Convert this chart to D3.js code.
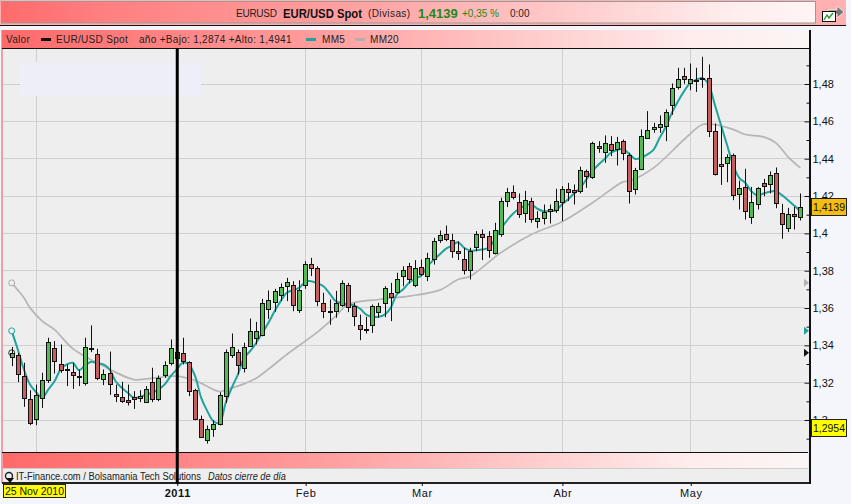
<!DOCTYPE html>
<html>
<head>
<meta charset="utf-8">
<title>EUR/USD Spot</title>
<script src="https://cdn.jsdelivr.net/npm/d3@7/dist/d3.min.js"></script>
<style>
  html, body { margin: 0; padding: 0; background: #f4f6fb; }
  svg { display: block; font-family: "Liberation Sans", Arial, sans-serif; }
  .axis text { font-size: 11px; fill: #111; }
  .axis line { stroke: #111; }
  .axis path { display: none; }
</style>
</head>
<body>
<svg id="chart" width="851" height="504"></svg>
<script>
"use strict";

// daily candles, 25 Nov 2010 onwards (ten per row)
const opens = [
  1.3336,1.3343,1.3232,1.3111,1.3004,1.3116,1.3212,1.3384,1.3298,1.3268,
  1.3254,1.3232,1.3196,1.3384,1.3352,1.3218,1.3250,1.3137,1.3121,1.3104,
  1.3121,1.3116,1.3095,1.3202,1.3111,1.3239,1.3302,1.3330,1.3357,1.3307,
  1.3157,1.3004,1.2891,1.2950,1.2977,1.3127,1.3343,1.3361,1.3275,1.3393,
  1.3437,1.3452,1.3593,1.3630,1.3668,1.3716,1.3721,1.3587,1.3721,1.3834,
  1.3813,1.3625,1.3582,1.3580,1.3614,1.3721,1.3609,1.3507,1.3487,1.3507,
  1.3577,1.3625,1.3679,1.3682,1.3770,1.3823,1.3720,1.3818,1.3768,1.3861,
  1.3961,1.3995,1.3961,1.3904,1.3859,1.3800,1.3925,1.3995,1.3984,1.3891,
  1.3993,1.4171,1.4220,1.4166,1.4107,1.4171,1.4064,1.4080,1.4118,1.4123,
  1.4166,1.4236,1.4230,1.4225,1.4332,1.4300,1.4466,1.4434,1.4477,1.4450,
  1.4493,1.4418,1.4236,1.4343,1.4509,1.4554,1.4568,1.4573,1.4686,1.4782,
  1.4841,1.4804,1.4820,1.4827,1.4830,1.4546,1.4370,1.4375,1.4418,1.4209,
  1.4246,1.4086,1.4155,1.4268,1.4262,1.4321,1.4107,1.4027,1.4102,1.4086
];
const highs = [
  1.3388,1.3357,1.3304,1.3157,1.3187,1.3250,1.3438,1.3420,1.3402,1.3295,
  1.3304,1.3268,1.3438,1.3504,1.3379,1.3268,1.3364,1.3187,1.3202,1.3187,
  1.3152,1.3157,1.3179,1.3277,1.3236,1.3312,1.3429,1.3375,1.3438,1.3312,
  1.3164,1.3021,1.2968,1.2996,1.3146,1.3375,1.3461,1.3375,1.3411,1.3541,
  1.3523,1.3646,1.3691,1.3700,1.3729,1.3759,1.3741,1.3746,1.3848,1.3866,
  1.3821,1.3679,1.3643,1.3689,1.3745,1.3732,1.3625,1.3562,1.3550,1.3616,
  1.3625,1.3714,1.3732,1.3786,1.3821,1.3839,1.3854,1.3857,1.3893,1.3973,
  1.4013,1.4039,1.3995,1.3955,1.3920,1.3920,1.4009,1.4018,1.4009,1.4054,
  1.4188,1.4241,1.4254,1.4211,1.4225,1.4188,1.4116,1.4152,1.4152,1.4236,
  1.4250,1.4268,1.4259,1.4354,1.4339,1.4488,1.4491,1.4522,1.4518,1.4514,
  1.4500,1.4429,1.4348,1.4554,1.4652,1.4589,1.4629,1.4661,1.4800,1.4884,
  1.4884,1.4907,1.4884,1.4943,1.4902,1.4586,1.4568,1.4420,1.4425,1.4280,
  1.4343,1.4246,1.4245,1.4289,1.4329,1.4350,1.4155,1.4134,1.4139,1.4211
];
const lows = [
  1.3286,1.3200,1.3068,1.2970,1.2970,1.3062,1.3196,1.3246,1.3250,1.3179,
  1.3164,1.3179,1.3182,1.3361,1.3211,1.3184,1.3132,1.3093,1.3089,1.3075,
  1.3057,1.3093,1.3093,1.3093,1.3098,1.3223,1.3289,1.3295,1.3295,1.3125,
  1.2996,1.2902,1.2871,1.2907,1.2968,1.3089,1.3330,1.3241,1.3252,1.3389,
  1.3402,1.3446,1.3539,1.3577,1.3634,1.3634,1.3580,1.3571,1.3700,1.3768,
  1.3607,1.3543,1.3507,1.3545,1.3604,1.3575,1.3500,1.3425,1.3461,1.3464,
  1.3545,1.3548,1.3527,1.3675,1.3714,1.3729,1.3709,1.3768,1.3741,1.3830,
  1.3946,1.3955,1.3866,1.3854,1.3777,1.3750,1.3902,1.3854,1.3866,1.3884,
  1.3979,1.4138,1.4179,1.4080,1.4054,1.4054,1.4025,1.4045,1.4050,1.4107,
  1.4063,1.4170,1.4152,1.4211,1.4241,1.4289,1.4429,1.4375,1.4411,1.4361,
  1.4389,1.4157,1.4205,1.4336,1.4504,1.4536,1.4536,1.4491,1.4632,1.4768,
  1.4798,1.4764,1.4755,1.4777,1.4513,1.4307,1.4257,1.4271,1.4175,1.4125,
  1.4071,1.4048,1.4125,1.4196,1.4211,1.4132,1.3968,1.4004,1.4018,1.4066
];
const closes = [
  1.3357,1.3246,1.3116,1.2982,1.3132,1.3212,1.3416,1.3314,1.3264,1.3268,
  1.3237,1.3232,1.3389,1.3384,1.3223,1.3245,1.3189,1.3127,1.3100,1.3095,
  1.3112,1.3127,1.3164,1.3112,1.3223,1.3293,1.3384,1.3362,1.3311,1.3154,
  1.3002,1.2907,1.2950,1.2975,1.3132,1.3362,1.3389,1.3293,1.3388,1.3473,
  1.3475,1.3625,1.3641,1.3689,1.3711,1.3737,1.3616,1.3696,1.3834,1.3813,
  1.3636,1.3580,1.3582,1.3625,1.3732,1.3604,1.3554,1.3486,1.3487,1.3609,
  1.3609,1.3702,1.3655,1.3754,1.3802,1.3754,1.3811,1.3780,1.3866,1.3955,
  1.3989,1.3968,1.3904,1.3893,1.3800,1.3904,1.3995,1.3979,1.3909,1.4016,
  1.4171,1.4220,1.4191,1.4102,1.4177,1.4075,1.4080,1.4113,1.4129,1.4171,
  1.4236,1.4220,1.4220,1.4338,1.4305,1.4482,1.4455,1.4482,1.4445,1.4488,
  1.4429,1.4225,1.4336,1.4520,1.4552,1.4568,1.4584,1.4648,1.4777,1.4825,
  1.4825,1.4825,1.4820,1.4827,1.4546,1.4314,1.4359,1.4407,1.4204,1.4241,
  1.4118,1.4166,1.4241,1.4252,1.4311,1.4161,1.4048,1.4102,1.4089,1.4139
];

// MM5 for every candle
const mm5 = [
  1.3475,1.3375,1.3268,1.3187,1.3146,1.3118,1.3161,1.3205,1.3268,1.3295,
  1.3304,1.3264,1.3289,1.3309,1.3300,1.3295,1.3268,1.3205,1.3170,1.3143,
  1.3116,1.3120,1.3134,1.3143,1.3161,1.3187,1.3232,1.3268,1.3304,1.3295,
  1.3232,1.3116,1.3045,1.2991,1.2982,1.3089,1.3170,1.3241,1.3329,1.3366,
  1.3411,1.3464,1.3518,1.3580,1.3634,1.3679,1.3693,1.3705,1.3736,1.3741,
  1.3729,1.3714,1.3675,1.3634,1.3625,1.3616,1.3611,1.3593,1.3562,1.3550,
  1.3550,1.3562,1.3598,1.3670,1.3696,1.3732,1.3754,1.3771,1.3821,1.3854,
  1.3884,1.3914,1.3932,1.3950,1.3920,1.3905,1.3907,1.3911,1.3920,1.3964,
  1.4021,1.4066,1.4102,1.4129,1.4146,1.4152,1.4129,1.4116,1.4116,1.4121,
  1.4152,1.4179,1.4211,1.4241,1.4286,1.4330,1.4366,1.4396,1.4429,1.4443,
  1.4450,1.4423,1.4396,1.4402,1.4420,1.4446,1.4509,1.4568,1.4643,1.4705,
  1.4759,1.4804,1.4821,1.4829,1.4795,1.4688,1.4580,1.4473,1.4366,1.4295,
  1.4268,1.4223,1.4200,1.4211,1.4220,1.4223,1.4202,1.4175,1.4146,1.4116
];

// MM20 read at these candles only, the line is smooth enough
const mm20At = [0,1,2,3,5,7,10,15,20,22,25,27,30,34,35,38,40,42,45,50,53,55,60,65,70,73,75,80,85,90,95,100,101,105,110,113,115,118,120,123,125,127,129];
const mm20 = [
  1.3732,1.3693,1.3652,1.3598,1.3527,1.3482,1.3380,1.3286,1.3214,1.3218,1.3229,1.3232,1.3209,1.3150,1.3159,
  1.3191,1.3221,1.3270,1.3348,1.3468,1.3554,1.3616,1.3643,1.3661,1.3693,1.3750,1.3768,1.3893,1.3991,1.4059,
  1.4161,1.4273,1.4277,1.4348,1.4500,1.4580,1.4580,1.4554,1.4527,1.4514,1.4482,1.4407,1.4348
];

// axis labels
const yMajor = [1.48,1.46,1.44,1.42,1.40,1.38,1.36,1.34,1.32,1.30];
const yMinor = [1.49,1.47,1.45,1.43,1.41,1.39,1.37,1.35,1.33,1.31,1.29];
const monthAt = [27,48,67,90,111];
const monthLabels = ["2011","Feb","Mar","Abr","May"];
const gridAt = [4,27,48,67,90,111];

const lastPrice = 1.4139, cursorPrice = 1.2954;

const svg = d3.select("#chart");

// scales
const x = d3.scaleLinear().domain([0, 129]).range([11.7, 800.3]);
const y = d3.scaleLinear().domain([1.30, 1.48]).range([419.5, 83.5]);
const px = (i) => Math.round(x(i)) + 0.5;
const py = (v) => Math.round(y(v)) + 0.5;

// gradients
const defs = svg.append("defs");
function gradient(id, stops) {
  defs.append("linearGradient").attr("id", id)
    .selectAll("stop").data(stops).enter().append("stop")
      .attr("offset", (d) => d[0])
      .attr("stop-color", (d) => d[1]);
}
gradient("redTop", [[0,"#ff6b6b"],[0.12,"#ff7f7f"],[0.45,"#ffa3a3"],[0.7,"#ffcccc"],[0.9,"#ffeeee"],[1,"#fff4f4"]]);
gradient("redBar", [[0,"#ff6a6a"],[0.15,"#ff7c7c"],[0.4,"#ff9e9e"],[0.62,"#ffc6c6"],[0.85,"#ffecec"],[1,"#fbf6f6"]]);

// top title bar
svg.append("rect").attr("x", 0).attr("y", 0).attr("width", 846).attr("height", 26).attr("fill", "#ffb0b0");
svg.append("rect").attr("x", 1.5).attr("y", 1.5).attr("width", 814).attr("height", 21.5)
    .attr("fill", "url(#redTop)").attr("stroke", "#999");
svg.append("line").attr("x1", 0).attr("x2", 846).attr("y1", 25.5).attr("y2", 25.5).attr("stroke", "#111");

const header = svg.append("g").style("font-size", "10px").attr("fill", "#222");
header.append("text").attr("x", 236).attr("y", 17).attr("textLength", 41).text("EURUSD");
header.append("text").attr("x", 283).attr("y", 18).style("font-size", "12.5px").style("font-weight", "bold").attr("fill", "#111").attr("textLength", 79).attr("lengthAdjust", "spacingAndGlyphs").text("EUR/USD Spot");
header.append("text").attr("x", 368).attr("y", 17).style("letter-spacing", "0.4px").text("(Divisas)");
header.append("text").attr("x", 418).attr("y", 18).style("font-size", "13px").style("font-weight", "bold").attr("fill", "#1a8a1a").text("1,4139");
header.append("text").attr("x", 462).attr("y", 17).attr("fill", "#1a8a1a").text("+0,35 %");
header.append("text").attr("x", 510).attr("y", 17).text("0:00");

// little chart icon, top right
const icon = svg.append("g");
icon.append("path").attr("d", "M828 10h9v-4l7 6-7 6v-4h-9z").attr("fill", "#777").attr("stroke", "#fff").attr("stroke-width", 0.7);
icon.append("rect").attr("x", 822.5).attr("y", 11.5).attr("width", 13).attr("height", 10).attr("fill", "#fff").attr("stroke", "#111");
icon.append("path").attr("d", "M824 20l3-5 2 3 4-5").attr("fill", "none").attr("stroke", "#2a9a2a").attr("stroke-width", 1.4);

// plot frame
svg.append("rect").attr("x", 2).attr("y", 30).attr("width", 808).attr("height", 453).attr("fill", "#eeeeee");
svg.append("rect").attr("x", 1).attr("y", 30).attr("width", 2).attr("height", 453).attr("fill", "#f0a0a0");

// legend bar
svg.append("rect").attr("x", 2).attr("y", 30).attr("width", 808).attr("height", 18).attr("fill", "url(#redBar)");
svg.append("line").attr("x1", 2).attr("x2", 810).attr("y1", 48.5).attr("y2", 48.5).attr("stroke", "#111");

const legend = svg.append("g").style("font-size", "10px").style("letter-spacing", "0.3px").attr("fill", "#222");
legend.append("text").attr("x", 6).attr("y", 43).text("Valor");
legend.append("rect").attr("x", 41).attr("y", 38).attr("width", 10).attr("height", 3).attr("fill", "#111");
legend.append("text").attr("x", 56).attr("y", 43).text("EUR/USD Spot");
legend.append("text").attr("x", 139).attr("y", 43).text("año +Bajo: 1,2874 +Alto: 1,4941");
legend.append("rect").attr("x", 306).attr("y", 38).attr("width", 10).attr("height", 3).attr("fill", "#1fa39c");
legend.append("text").attr("x", 322).attr("y", 43).text("MM5");
legend.append("rect").attr("x", 355).attr("y", 38).attr("width", 10).attr("height", 3).attr("fill", "#b0b0b0");
legend.append("text").attr("x", 370).attr("y", 43).text("MM20");

// horizontal and vertical grid
svg.append("g").selectAll("line").data(yMajor).enter().append("line")
    .attr("x1", 3).attr("x2", 805)
    .attr("y1", py).attr("y2", py)
    .attr("stroke", "#cfcfcf");
svg.append("g").selectAll("line").data(gridAt).enter().append("line")
    .attr("x1", px).attr("x2", px)
    .attr("y1", 49).attr("y2", 452)
    .attr("stroke", "#cfcfcf");

// pale box top left
svg.append("rect").attr("x", 20).attr("y", 62).attr("width", 181).attr("height", 34).attr("fill", "#eeeef8");

// moving averages sit under the candles
const lineMM5 = d3.line().x((d, i) => x(i)).y((d) => y(d)).curve(d3.curveCatmullRom);
const lineMM20 = d3.line().x((d, i) => x(mm20At[i])).y((d) => y(d)).curve(d3.curveCatmullRom);
svg.append("path").attr("d", lineMM20(mm20)).attr("fill", "none").attr("stroke", "#b6b6b6").attr("stroke-width", 1.7);
svg.append("path").attr("d", lineMM5(mm5)).attr("fill", "none").attr("stroke", "#1fa39c").attr("stroke-width", 2);

// start markers
svg.append("circle").attr("cx", x(0)).attr("cy", y(mm20[0])).attr("r", 3).attr("fill", "#eee").attr("stroke", "#aaa");
svg.append("circle").attr("cx", x(0)).attr("cy", y(mm5[0])).attr("r", 3).attr("fill", "#eee").attr("stroke", "#1fa39c");
svg.append("circle").attr("cx", x(0)).attr("cy", y(closes[0])).attr("r", 3).attr("fill", "none").attr("stroke", "#333");

// candles
const candle = svg.append("g").selectAll("g").data(closes).enter().append("g");
candle.append("line")
    .attr("x1", (d, i) => px(i)).attr("x2", (d, i) => px(i))
    .attr("y1", (d, i) => y(highs[i])).attr("y2", (d, i) => y(lows[i]))
    .attr("stroke", "#111");
candle.append("rect")
    .attr("x", (d, i) => px(i) - 2)
    .attr("width", 4)
    .attr("y", (d, i) => Math.round(y(Math.max(opens[i], d))) + 0.5)
    .attr("height", (d, i) => Math.max(1, Math.round(y(Math.min(opens[i], d))) - Math.round(y(Math.max(opens[i], d)))))
    .attr("fill", (d, i) => d > opens[i] ? "#55b955" : (d < opens[i] ? "#c25f5f" : "#111"))
    .attr("stroke", "#111");

// bottom band
svg.append("rect").attr("x", 3).attr("y", 453).attr("width", 805).attr("height", 15).attr("fill", "url(#redBar)");
svg.append("line").attr("x1", 2).attr("x2", 808).attr("y1", 452.5).attr("y2", 452.5).attr("stroke", "#111");
svg.append("line").attr("x1", 3).attr("x2", 808).attr("y1", 468.5).attr("y2", 468.5).attr("stroke", "#ccc");
svg.append("line").attr("x1", 2).attr("x2", 810).attr("y1", 483).attr("y2", 483).attr("stroke", "#222").attr("stroke-width", 2);
svg.append("text").attr("x", 16).attr("y", 480).style("font-size", "10px").attr("textLength", 185).attr("lengthAdjust", "spacingAndGlyphs").attr("fill", "#222").text("IT-Finance.com / Bolsamania Tech Solutions");
svg.append("text").attr("x", 208).attr("y", 480).style("font-size", "10px").style("font-style", "italic").attr("textLength", 78).attr("lengthAdjust", "spacingAndGlyphs").attr("fill", "#222").text("Datos cierre de día");
svg.append("circle").attr("cx", 9).attr("cy", 476).attr("r", 3.5).attr("fill", "none").attr("stroke", "#222").attr("stroke-width", 1.4);
svg.append("path").attr("d", "M6 478h8l-4 5z").attr("fill", "#111");

// right axis
svg.append("line").attr("x1", 810).attr("x2", 810).attr("y1", 30).attr("y2", 484).attr("stroke", "#111").attr("stroke-width", 2);
svg.append("g").attr("class", "axis").attr("transform", "translate(809.5,0)")
    .call(d3.axisRight(d3.scaleLinear().domain(y.domain()).range([420, 84]))
      .tickValues(yMajor).tickSize(-5).tickPadding(3)
      .tickFormat((d) => String(+d.toFixed(2)).replace(".", ",")));
svg.append("g").attr("class", "axis").attr("transform", "translate(809.5,0)")
    .call(d3.axisRight(d3.scaleLinear().domain(y.domain()).range([420, 84]))
      .tickValues(yMinor).tickSize(-3).tickFormat(""));

// start-value arrows on the axis
[[mm20[0], "#b2b2b2"], [mm5[0], "#1fa39c"], [closes[0], "#111"]].forEach((d) => {
  svg.append("path")
      .attr("d", "M804 " + (y(d[0]) - 4) + "l5 4l-5 4z")
      .attr("fill", d[1]);
});

// bottom axis
const xAxis = d3.axisBottom(x).tickValues(monthAt).tickSize(3).tickPadding(3)
    .tickFormat((d, i) => monthLabels[i]);
svg.append("g").attr("class", "axis").attr("transform", "translate(0.5,483)").call(xAxis)
  .selectAll("text")
    .style("font-size", "11px")
    .style("letter-spacing", "0.6px")
    .style("font-weight", (d, i) => i === 0 ? "bold" : "normal");

// year line goes over everything
svg.append("line")
    .attr("x1", x(monthAt[0]) + 0.5).attr("x2", x(monthAt[0]) + 0.5)
    .attr("y1", 48).attr("y2", 484)
    .attr("stroke", "#000").attr("stroke-width", 3);

// price flags
function flag(v, fill) {
  const yy = Math.round(y(v));
  svg.append("rect").attr("x", 811.5).attr("y", yy - 8.5).attr("width", 35).attr("height", 17)
      .attr("fill", fill).attr("stroke", "#222");
  svg.append("text").attr("x", 813).attr("y", yy + 4).style("font-size", "11px").attr("textLength", 32).attr("lengthAdjust", "spacingAndGlyphs").attr("fill", "#111")
      .text(String(v).replace(".", ","));
}
flag(lastPrice, "#f7bc12");
flag(cursorPrice, "#ffff00");

// date flag
svg.append("rect").attr("x", 3.5).attr("y", 484.5).attr("width", 62).attr("height", 13).attr("fill", "#ffff00").attr("stroke", "#222");
svg.append("text").attr("x", 5).attr("y", 495).style("font-size", "10.5px").attr("textLength", 59).attr("fill", "#111").text("25 Nov 2010");
</script>
</body>
</html>
